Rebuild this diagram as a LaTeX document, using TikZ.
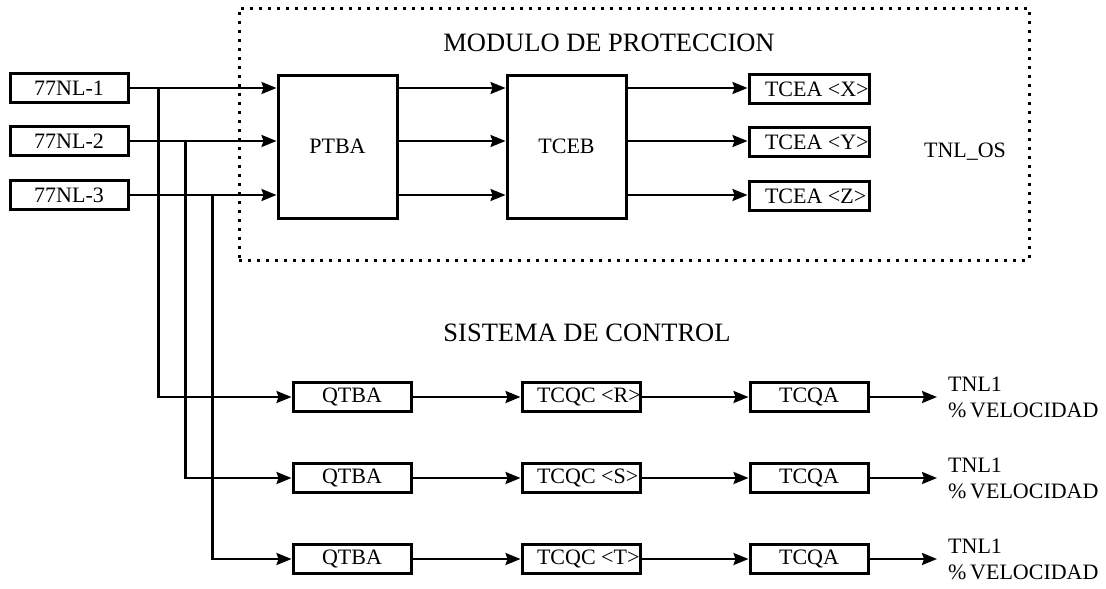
\documentclass[tikz,border=0pt]{standalone}
\usepackage{fontspec}
\setmainfont{Liberation Serif}
\usetikzlibrary{arrows.meta}
\newcommand\dlbl{\fontsize{22}{26}\selectfont}
\newcommand\dttl{\fontsize{26.5}{30}\selectfont}
\begin{document}
\begin{tikzpicture}[x=1pt,y=-1pt,
  box/.style={draw, line width=3pt, minimum width=118pt, minimum height=29pt, inner sep=0pt, font=\dlbl},
  bigbox/.style={draw, line width=3pt, minimum width=119pt, minimum height=143pt, inner sep=0pt, font=\dlbl},
  conn/.style={line width=2.3pt, -{Stealth[length=15pt,width=12pt,inset=2pt]}},
  plain/.style={inner sep=0pt, font=\dlbl},
  ttl/.style={inner sep=0pt, font=\dttl},
  frame/.style={draw, line width=3pt, dash pattern=on 3pt off 6pt, minimum width=790pt, minimum height=252pt, inner sep=0pt}
]
\useasboundingbox (0,0) rectangle (1106,589);

% protection module frame
\node[frame] (modbox) at (634,134) {};
\node[ttl] (tmod) at (609,43) {MODULO DE PROTECCION};
\node[plain] (tnlos) at (965,152) {TNL\_OS};
\node[ttl] (tsis) at (587,333) {SISTEMA DE CONTROL};

% inputs
\node[box] (n1) at (69,88) {77NL-1};
\node[box] (n2) at (69,141) {77NL-2};
\node[box] (n3) at (69,195) {77NL-3};

% protection blocks
\node[bigbox] (ptba) at (337.5,146.5) {PTBA};
\node[bigbox] (tceb) at (566.5,146.5) {TCEB};
\node[box, minimum width=120pt] (ex) at (809,89) {\makebox[88pt][l]{TCEA <X>}};
\node[box, minimum width=120pt] (ey) at (809,142) {\makebox[88pt][l]{TCEA <Y>}};
\node[box, minimum width=120pt] (ez) at (809,196) {\makebox[88pt][l]{TCEA <Z>}};

% control rows
\foreach \i/\y/\L in {1/397/R,2/478/S,3/559/T}{
  \node[box] (q\i) at (352,\y) {QTBA};
  \node[box] (c\i) at (581,\y) {\makebox[88pt][l]{TCQC <\L>}};
  \node[box] (a\i) at (809,\y) {TCQA};
  \coordinate (o\i) at (937,\y);
  \node[plain, anchor=west, align=left] (t\i) at (948,\y) {TNL1\\\%\,VELOCIDAD};
}

% connectors top
\draw[conn] (n1.east) -- (ptba.west |- n1.east);
\draw[conn] (n2.east) -- (ptba.west |- n2.east);
\draw[conn] (n3.east) -- (ptba.west |- n3.east);
\draw[conn] (ptba.east |- n1.east) -- (tceb.west |- n1.east);
\draw[conn] (ptba.east |- n2.east) -- (tceb.west |- n2.east);
\draw[conn] (ptba.east |- n3.east) -- (tceb.west |- n3.east);
\draw[conn] (tceb.east |- n1.east) -- (ex.west |- n1.east);
\draw[conn] (tceb.east |- n2.east) -- (ey.west |- n2.east);
\draw[conn] (tceb.east |- n3.east) -- (ez.west |- n3.east);

% branches
\path (n1.east) ++(29,0) coordinate (j1);
\path (n2.east) ++(56,0) coordinate (j2);
\path (n3.east) ++(83,0) coordinate (j3);
\draw[conn] (j1) |- (q1.west);
\draw[conn] (j2) |- (q2.west);
\draw[conn] (j3) |- (q3.west);

% control connectors
\foreach \i in {1,2,3}{
  \draw[conn] (q\i.east) -- (c\i.west);
  \draw[conn] (c\i.east) -- (a\i.west);
  \draw[conn] (a\i.east) -- (o\i);
}
\end{tikzpicture}
\end{document}
